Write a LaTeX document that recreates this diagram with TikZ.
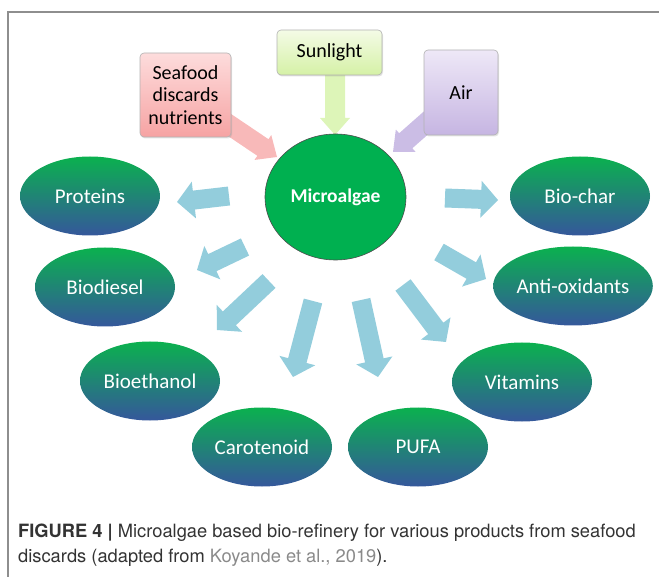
\documentclass[tikz,border=0pt]{standalone}
\usepackage{fontspec}
\setmainfont{Carlito}
\newfontfamily\capfont{TeX Gyre Heros}
\usetikzlibrary{calc,shapes.geometric,shadows}

\definecolor{framegray}{HTML}{8E8E8E}
\definecolor{algae}{HTML}{00B050}
\definecolor{prodgreen}{HTML}{0BB14F}
\definecolor{prodblue}{HTML}{35579B}
\definecolor{flowblue}{HTML}{93CDDC}
\definecolor{pinktop}{HTML}{FDDCDC}
\definecolor{pinkbot}{HTML}{F6A3A3}
\definecolor{pinkarrow}{HTML}{F8B9B9}
\definecolor{suntop}{HTML}{F4FBE6}
\definecolor{sunbot}{HTML}{D5F1A6}
\definecolor{sunarrow}{HTML}{DDF5B8}
\definecolor{airtop}{HTML}{EEE8F7}
\definecolor{airbot}{HTML}{C6B5E2}
\definecolor{airarrow}{HTML}{CBBDE5}
\definecolor{captext}{HTML}{333333}
\definecolor{citegray}{HTML}{8A8A8A}

% block arrow: style, tail, tip, shaft half width, head half width, head length
\newcommand\blockarrow[6]{%
  \coordinate (ba-h) at ($(#3)!#6!(#2)$);
  \fill[#1] ($(#2)!#4!90:(#3)$) -- ($(ba-h)!#4!90:(#3)$) -- ($(ba-h)!#5!90:(#3)$)
    -- (#3) -- ($(ba-h)!#5!-90:(#3)$) -- ($(ba-h)!#4!-90:(#3)$)
    -- ($(#2)!#4!-90:(#3)$) -- cycle;
}

\tikzset{
  inbox/.style={draw=black!30, line width=0.6pt, rounded corners=4pt, inner sep=0pt,
    align=center, text=black, font=\fontsize{20}{22.5}\selectfont,
    drop shadow={opacity=0.22, shadow xshift=1pt, shadow yshift=-1.5pt}},
  product/.style={ellipse, minimum width=140pt, minimum height=79pt, inner sep=0pt,
    top color=prodgreen, bottom color=prodblue, text=white,
    font=\fontsize{21}{24}\selectfont},
  outflow/.style={fill=flowblue},
  captionline/.style={anchor=base west, inner sep=0pt, text=captext,
    font=\capfont\fontsize{18.3}{22}\selectfont},
}

\begin{document}
\begin{tikzpicture}[x=1pt,y=-1pt]
\useasboundingbox (0,0) rectangle (659,577);

% page frame (top and left rules)
\draw[framegray, line width=1.5pt] (8,577) -- (8,12) -- (659,12);

% anchor points of the feed arrows
\coordinate (seaT) at (185,95);
\coordinate (seaH) at (277,157);
\coordinate (sunT) at (335,60);
\coordinate (sunH) at (335,135);
\coordinate (airT) at (461,92);
\coordinate (airH) at (393,152);

\blockarrow{pinkarrow}{seaT}{seaH}{10pt}{15pt}{17pt}
\blockarrow{sunarrow}{sunT}{sunH}{10pt}{15pt}{17pt}
\blockarrow{airarrow}{airT}{airH}{10pt}{15pt}{17pt}

% input boxes
\node[inbox, top color=pinktop, bottom color=pinkbot, minimum width=91pt, minimum height=84pt]
  (sea) at (185.5,95) {Seafood\\discards\\nutrients};
\node[inbox, top color=suntop, bottom color=sunbot, minimum width=105pt, minimum height=45pt]
  (sun) at (329.5,52.5) {Sunlight};
\node[inbox, top color=airtop, bottom color=airbot, minimum width=74pt, minimum height=85pt]
  (air) at (461,92.5) {Air};

% central node
\node[ellipse, draw=black!70, line width=0.6pt, fill=algae, minimum width=141pt,
  minimum height=126pt, inner sep=0pt, text=white,
  font=\bfseries\fontsize{19.5}{22}\selectfont] (alg) at (335.5,197) {Microalgae};

% products
\node[product] (prot) at (90,196)  {Proteins};
\node[product] (dies) at (105,287) {Biodiesel};
\node[product] (etoh) at (150,381) {Bioethanol};
\node[product] (caro) at (262,447) {Carotenoid};
\node[product] (pufa) at (418,447) {PUFA};
\node[product] (vita) at (522,382) {Vitamins};
\node[product] (anti) at (573,286) {Anti-oxidants};
\node[product] (char) at (580,196) {Bio-char};

% product arrows
\coordinate (o1t) at (229,196); \coordinate (o1h) at (177,202);
\coordinate (o2t) at (245,247); \coordinate (o2h) at (197,270);
\coordinate (o3t) at (269,281); \coordinate (o3h) at (217,330);
\coordinate (o4t) at (313,301); \coordinate (o4h) at (293,377);
\coordinate (o5t) at (361,300); \coordinate (o5h) at (378,377);
\coordinate (o6t) at (403,285); \coordinate (o6h) at (446,342);
\coordinate (o7t) at (439,252); \coordinate (o7h) at (486,279);
\coordinate (o8t) at (445,198); \coordinate (o8h) at (498,200);
\foreach \k in {1,...,8}{\blockarrow{outflow}{o\k t}{o\k h}{9.5pt}{18.5pt}{17pt}}

% caption
\node[captionline] (cap1) at (18,537)
  {\textbf{FIGURE 4 |} Microalgae based bio-refinery for various products from seafood};
\node[captionline] (cap2) at (18,562)
  {discards (adapted from \textcolor{citegray}{Koyande et al., 2019}).};
\end{tikzpicture}
\end{document}
